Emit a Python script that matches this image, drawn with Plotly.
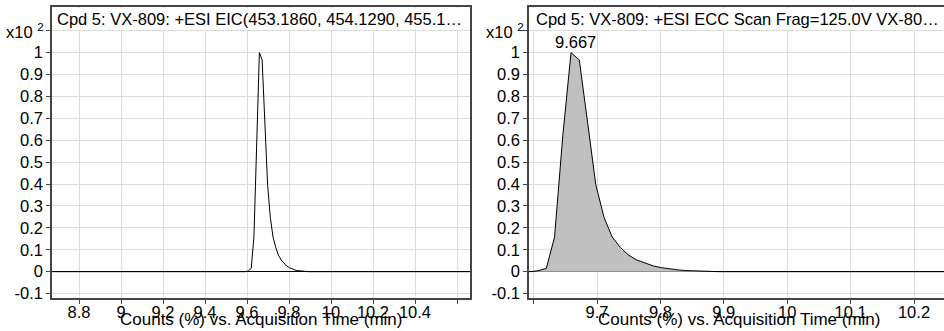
import plotly.graph_objects as go

# Acquisition time (min) and counts (x10^2 %)
time_min = [8.67, 9.594, 9.607, 9.620, 9.633, 9.646, 9.659, 9.672, 9.685, 9.698,
            9.711, 9.724, 9.737, 9.750, 9.763, 9.776, 9.789, 9.802, 9.815, 9.828,
            9.841, 9.854, 9.867, 9.880, 9.893, 10.66]
counts = [0, 0, 0.004, 0.015, 0.158, 0.62, 1.0, 0.967, 0.684, 0.398,
          0.248, 0.158, 0.110, 0.075, 0.053, 0.038, 0.026, 0.018, 0.012, 0.008,
          0.005, 0.003, 0.002, 0.001, 0, 0]

left_title = "Cpd 5: VX-809: +ESI EIC(453.1860, 454.1290, 455.1…"
right_title = "Cpd 5: VX-809: +ESI ECC Scan Frag=125.0V VX-80…"
x_title = "Counts (%) vs. Acquisition Time (min)"
peak_label = "9.667"
peak_time = 9.659
peak_value = 1.0

left_xticks = [8.8, 9.0, 9.2, 9.4, 9.6, 9.8, 10.0, 10.2, 10.4, 10.6]
left_xtext = ["8.8", "9", "9.2", "9.4", "9.6", "9.8", "10", "10.2", "10.4", ""]
right_xticks = [9.6, 9.7, 9.8, 9.9, 10.0, 10.1, 10.2]
right_xtext = ["", "9.7", "9.8", "9.9", "10", "10.1", "10.2"]
yticks = [-0.1, 0, 0.1, 0.2, 0.3, 0.4, 0.5, 0.6, 0.7, 0.8, 0.9, 1.0, 1.1]
ytext = ["-0.1", "0", "0.1", "0.2", "0.3", "0.4", "0.5", "0.6", "0.7", "0.8", "0.9", "1", ""]

W, H = 944, 331
FONT = "Liberation Sans, Arial, sans-serif"
GRID = "#dcdcdc"
AX = "#444444"

fig = go.Figure()
fig.add_trace(go.Scatter(x=time_min, y=counts, mode="lines",
                         line=dict(color="black", width=1),
                         xaxis="x", yaxis="y", showlegend=False))
fig.add_trace(go.Scatter(x=time_min, y=counts, mode="lines", fill="tozeroy",
                         fillcolor="#c0c0c0",
                         line=dict(color="black", width=1),
                         xaxis="x2", yaxis="y2", showlegend=False))

xcommon = dict(showgrid=True, gridcolor=GRID, gridwidth=1, zeroline=False,
               showline=True, linecolor=AX, linewidth=1.5, mirror=True,
               ticks="outside", ticklen=4, tickcolor=AX, tickmode="array",
               ticklabelstandoff=-6,
               tickfont=dict(family=FONT, size=16.5, color="black"))
ycommon = dict(showgrid=True, gridcolor=GRID, gridwidth=1, zeroline=True,
               zerolinecolor="black", zerolinewidth=1,
               showline=True, linecolor=AX, linewidth=1.5,
               ticks="outside", ticklen=4, tickcolor=AX, tickmode="array",
               tickvals=yticks, ticktext=ytext, range=[-0.1218, 1.2088],
               tickfont=dict(family=FONT, size=16.5, color="black"),
               domain=[29 / H, 324 / H])

fig.update_layout(
    width=W, height=H, margin=dict(l=0, r=0, t=0, b=0),
    paper_bgcolor="white", plot_bgcolor="white",
    xaxis=dict(xcommon, domain=[52 / W, 470 / W], range=[8.6714, 10.6619],
               tickvals=left_xticks, ticktext=left_xtext, anchor="y"),
    yaxis=dict(ycommon, anchor="x", mirror=True),
    xaxis2=dict(xcommon, domain=[529 / W, 1.0], range=[9.5927, 10.2473],
                tickvals=right_xticks, ticktext=right_xtext, anchor="y2"),
    yaxis2=dict(ycommon, anchor="x2", mirror=False),
)

# White title bands covering the grid above 1.1
for xr, yr in (("x domain", "y"), ("x2 domain", "y2")):
    fig.add_shape(type="rect", xref=xr, yref=yr, x0=0.003, x1=0.997,
                  y0=1.104, y1=1.203, fillcolor="white", line=dict(width=0),
                  layer="above")

ann_font = dict(family=FONT, size=16.5, color="black")
fig.add_annotation(text=left_title, xref="paper", yref="paper", x=55 / W, y=(H - 19) / H,
                   xanchor="left", yanchor="middle", showarrow=False, font=ann_font)
fig.add_annotation(text=right_title, xref="paper", yref="paper", x=534 / W, y=(H - 19) / H,
                   xanchor="left", yanchor="middle", showarrow=False, font=ann_font)
for xr in (46, 526):
    fig.add_annotation(text="x10 <sup>2</sup>", xref="paper", yref="paper", x=xr / W,
                       y=(H - 31) / H, xanchor="right", yanchor="middle",
                       showarrow=False, font=ann_font)
for xc in (261, 738.5):
    fig.add_annotation(text=x_title, xref="paper", yref="paper", x=xc / W, y=(H - 323) / H,
                       xanchor="center", yanchor="middle", showarrow=False,
                       font=dict(family=FONT, size=17, color="black"))
fig.add_annotation(text=peak_label, xref="x2", yref="y2", x=peak_time, y=peak_value,
                   xanchor="center", yanchor="bottom", xshift=4, showarrow=False,
                   font=ann_font)

fig.write_html("out.html", config={"displayModeBar": False},
               post_script="document.body.style.margin='0';document.body.style.overflow='hidden';")
